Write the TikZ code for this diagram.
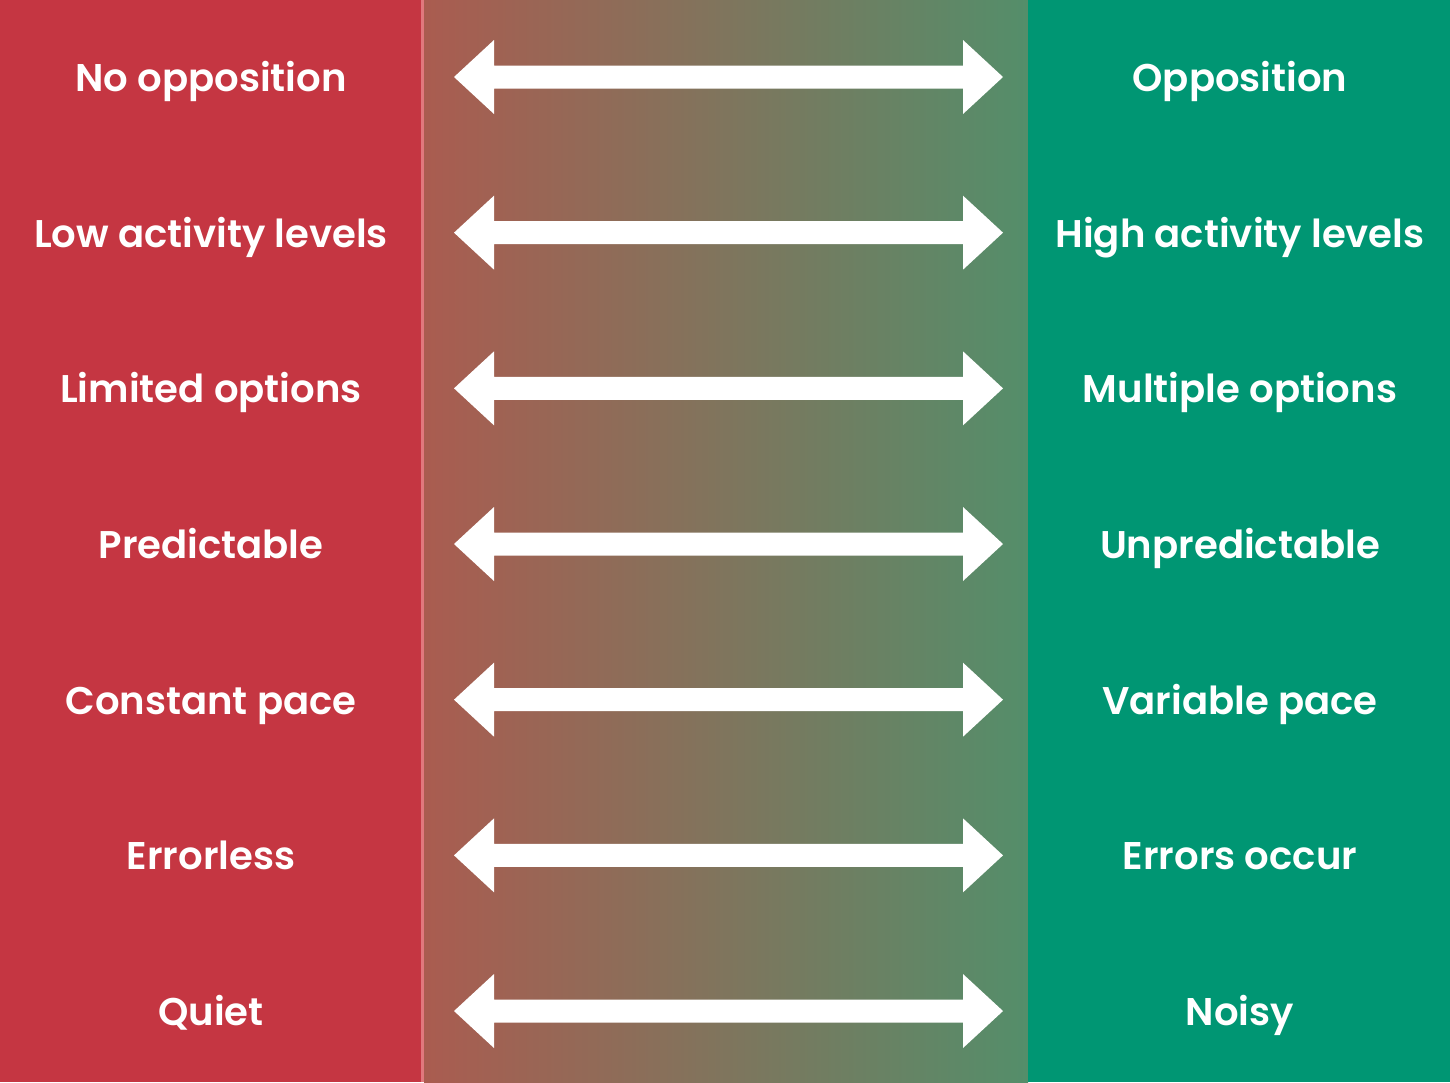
\documentclass[tikz,border=0pt]{standalone}
\usepackage{fontspec}
\setmainfont{Poppins}[BoldFont={Poppins SemiBold}]
\definecolor{redcol}{RGB}{197,54,66}
\definecolor{greencol}{RGB}{0,150,115}
\definecolor{gradL}{RGB}{170,92,80}
\definecolor{gradR}{RGB}{84,142,106}
\definecolor{lineC}{RGB}{225,120,125}
\tikzset{
  lbl/.style={text=white, font=\fontsize{19.3}{24}\selectfont\bfseries, anchor=base, inner sep=0pt},
  arr/.style={fill=white, draw=none}
}
\begin{document}
\begin{tikzpicture}[x=0.5pt,y=-0.5pt]
\useasboundingbox (0,0) rectangle (1450,1082);
\fill[redcol] (0,0) rectangle (421,1082);
\fill[lineC] (421,0) rectangle (424,1082);
\shade[left color=gradL, right color=gradR] (424,0) rectangle (1028,1082);
\fill[greencol] (1028,0) rectangle (1450,1082);
\foreach \i/\l/\r in {1/No opposition/Opposition,
                      2/Low activity levels/High activity levels,
                      3/Limited options/Multiple options,
                      4/Predictable/Unpredictable,
                      5/Constant pace/Variable pace,
                      6/Errorless/Errors occur,
                      7/Quiet/Noisy}{
  \pgfmathsetmacro{\yc}{77+(\i-1)*155.67}
  \node[lbl] (L\i) at (211,\yc+14.5) {\l};
  \node[lbl] (R\i) at (1240,\yc+14.5) {\r};
  \fill[arr] (454,\yc) -- (494,\yc-37) -- (494,\yc-11.5) -- (963,\yc-11.5) -- (963,\yc-37)
     -- (1003,\yc) -- (963,\yc+37) -- (963,\yc+11.5) -- (494,\yc+11.5) -- (494,\yc+37) -- cycle;
}
\end{tikzpicture}
\end{document}
